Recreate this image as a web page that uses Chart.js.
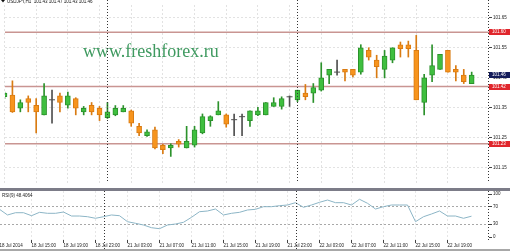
<!DOCTYPE html>
<html>
<head>
<meta charset="utf-8">
<script src="https://cdn.jsdelivr.net/npm/chart.js@4/dist/chart.umd.min.js"></script>
<style>
  html, body { margin: 0; padding: 0; background: #fff; }
  #wrap { position: relative; width: 510px; height: 251px; overflow: hidden; }
  #priceChart { position: absolute; left: 0; top: 0; }
  #sep { position: absolute; left: 0; top: 188px; width: 510px; height: 3px; background: #7c7c88; }
  #rsiChart { position: absolute; left: 0; top: 191px; }
  #foot { position: absolute; left: 0; top: 249px; width: 510px; height: 2px; background: #a8a8a8; }
</style>
</head>
<body>
<div id="wrap">
  <canvas id="priceChart" width="510" height="188"></canvas>
  <div id="sep"></div>
  <canvas id="rsiChart" width="510" height="60"></canvas>
  <div id="foot"></div>
</div>
<script>
const symbolTitle = "USDJPY,H1  101.43 101.47 101.43 101.46";
const rsiTitle = "RSI(9) 48.4064";
const watermark = "www.freshforex.ru";

// H1 candles, 18 Jul 11:00 .. 22 Jul 22:00
const opens  = [101.386, 101.392, 101.348, 101.380, 101.358, 101.326, 101.376, 101.389, 101.358, 101.380,
                101.336, 101.358, 101.348, 101.317, 101.326, 101.336, 101.339, 101.288, 101.257, 101.276,
                101.225, 101.216, 101.238, 101.216, 101.225, 101.266, 101.307, 101.326, 101.326, 101.310,
                101.320, 101.307, 101.326, 101.326, 101.354, 101.354, 101.386, 101.376, 101.398, 101.398,
                101.408, 101.458, 101.468, 101.477, 101.477, 101.468, 101.540, 101.508, 101.477, 101.508,
                101.559, 101.559, 101.540, 101.367, 101.458, 101.477, 101.540, 101.477, 101.458, 101.430];
const highs  = [101.402, 101.439, 101.376, 101.389, 101.380, 101.430, 101.408, 101.398, 101.402, 101.383,
                101.354, 101.367, 101.354, 101.367, 101.357, 101.357, 101.342, 101.298, 101.276, 101.285,
                101.228, 101.230, 101.244, 101.288, 101.288, 101.329, 101.323, 101.370, 101.329, 101.329,
                101.329, 101.339, 101.351, 101.367, 101.383, 101.386, 101.389, 101.408, 101.427, 101.430,
                101.499, 101.477, 101.508, 101.477, 101.477, 101.559, 101.549, 101.524, 101.540, 101.549,
                101.568, 101.571, 101.590, 101.461, 101.559, 101.527, 101.540, 101.490, 101.477, 101.468];
const lows   = [101.380, 101.334, 101.336, 101.336, 101.266, 101.326, 101.298, 101.336, 101.348, 101.326,
                101.326, 101.326, 101.307, 101.314, 101.323, 101.336, 101.288, 101.257, 101.254, 101.213,
                101.197, 101.188, 101.219, 101.216, 101.219, 101.263, 101.288, 101.326, 101.285, 101.257,
                101.257, 101.288, 101.323, 101.326, 101.354, 101.345, 101.354, 101.370, 101.376, 101.367,
                101.405, 101.430, 101.458, 101.439, 101.452, 101.461, 101.508, 101.449, 101.449, 101.499,
                101.518, 101.518, 101.376, 101.326, 101.436, 101.477, 101.468, 101.439, 101.430, 101.430];
const closes = [101.398, 101.336, 101.367, 101.367, 101.336, 101.389, 101.376, 101.367, 101.389, 101.348,
                101.348, 101.336, 101.326, 101.336, 101.348, 101.348, 101.298, 101.266, 101.270, 101.216,
                101.210, 101.225, 101.229, 101.238, 101.276, 101.320, 101.320, 101.339, 101.295, 101.310,
                101.320, 101.339, 101.339, 101.367, 101.367, 101.380, 101.386, 101.408, 101.386, 101.417,
                101.449, 101.477, 101.468, 101.468, 101.458, 101.549, 101.518, 101.486, 101.521, 101.549,
                101.546, 101.546, 101.376, 101.449, 101.490, 101.527, 101.468, 101.468, 101.436, 101.458];

const rsi = [64.4, 51.2, 56.5, 56.5, 49.5, 57.4, 55.1, 55.1, 58.1, 48.8,
             48.8, 47.2, 43.5, 47.2, 51.2, 49.5, 35.6, 31.9, 27.9, 21.6,
             19.3, 27.9, 30.2, 34.2, 45.8, 58.8, 60.5, 65.1, 51.2, 55.1,
             57.4, 62.8, 64.4, 70.5, 70.5, 72.8, 74.4, 79.8, 69.1, 74.4,
             80.7, 86.0, 79.8, 79.8, 74.4, 87.7, 78.4, 65.1, 70.5, 74.4,
             74.4, 74.4, 35.6, 47.2, 53.5, 60.5, 48.8, 48.8, 43.5, 48.4];

const priceTicks = [101.15, 101.25, 101.35, 101.45, 101.55, 101.65];
const rsiTicks = [0, 30, 70, 100];
const timeTickIdx = [0, 4, 8, 12, 16, 20, 24, 28, 32, 36, 40, 44, 48, 52, 56];
const timeTickLabels = ["18 Jul 2014", "18 Jul 15:00", "18 Jul 19:00", "18 Jul 23:00",
                        "21 Jul 03:00", "21 Jul 07:00", "21 Jul 11:00", "21 Jul 15:00",
                        "21 Jul 19:00", "21 Jul 23:00", "22 Jul 03:00", "22 Jul 07:00",
                        "22 Jul 11:00", "22 Jul 15:00", "22 Jul 19:00"];
const levelLines = [101.60, 101.42, 101.23];
const lastPrice = 101.46;
const daySeparators = [13, 37];

const idx = opens.map((_, i) => i);
const UP = '#3fbf3f', UP_EDGE = '#2c922c', DN = '#f7941d', DN_EDGE = '#d97b12', FLAT = '#505050';
const pick = (i, up, dn, flat) => closes[i] > opens[i] ? up : (closes[i] < opens[i] ? dn : flat);

const FONT = { family: 'Liberation Sans, Arial, sans-serif', size: 4.5 };
const xMin = 0.0625, xMax = xMin + 489 / 8;

function fixWidth(s) { s.width = 21; s.paddingTop = 0; s.paddingBottom = 0; }

function dottedV(ctx, x, y1, y2, color) {
  ctx.save();
  ctx.strokeStyle = color;
  ctx.lineWidth = 1;
  ctx.setLineDash([1, 2]);
  ctx.beginPath();
  ctx.moveTo(Math.round(x) + 0.5, y1);
  ctx.lineTo(Math.round(x) + 0.5, y2);
  ctx.stroke();
  ctx.restore();
}

function priceTag(ctx, area, y, text, bg) {
  ctx.fillStyle = bg;
  ctx.fillRect(area.right, Math.round(y) - 3, 21, 6);
  ctx.fillStyle = '#fff';
  ctx.font = '4.5px Liberation Sans, Arial, sans-serif';
  ctx.textBaseline = 'middle';
  ctx.textAlign = 'left';
  ctx.fillText(text, area.right + 3, Math.round(y));
}

const mainDecor = {
  id: 'mainDecor',
  beforeDatasetsDraw(chart) {
    const { ctx, chartArea: a, scales: { y } } = chart;
    ctx.save();
    ctx.strokeStyle = '#c99592';
    ctx.lineWidth = 1.5;
    levelLines.forEach(v => {
      const py = y.getPixelForValue(v);
      ctx.beginPath();
      ctx.moveTo(a.left, py);
      ctx.lineTo(a.right, py);
      ctx.stroke();
    });
    ctx.fillStyle = '#3f9a60';
    ctx.font = '18px Liberation Serif, Times New Roman, serif';
    ctx.textBaseline = 'alphabetic';
    ctx.fillText(watermark, 83, 57);
    ctx.restore();
  },
  afterDraw(chart) {
    const { ctx, chartArea: a, scales: { x, y } } = chart;
    ctx.save();
    daySeparators.forEach(i => dottedV(ctx, x.getPixelForValue(i), 0, a.bottom, '#333'));
    dottedV(ctx, a.right - 1, 0, a.bottom, '#333');
    levelLines.forEach(v => priceTag(ctx, a, y.getPixelForValue(v), v.toFixed(2), '#e0262c'));
    priceTag(ctx, a, y.getPixelForValue(lastPrice), lastPrice.toFixed(2), '#141c5a');
    // header
    ctx.fillStyle = '#111';
    ctx.beginPath();
    ctx.moveTo(1, 0); ctx.lineTo(5, 0); ctx.lineTo(3, 2.5); ctx.closePath();
    ctx.fill();
    ctx.font = '4.5px Liberation Sans, Arial, sans-serif';
    ctx.textBaseline = 'alphabetic';
    ctx.fillText(symbolTitle, 7, 3);
    ctx.restore();
  }
};

new Chart(document.getElementById('priceChart'), {
  type: 'bar',
  data: {
    datasets: [
      {
        order: 0,
        grouped: false,
        barThickness: 5,
        borderWidth: 1,
        borderSkipped: false,
        data: idx.filter(i => opens[i] !== closes[i]).map(i => ({ x: i, y: [opens[i], closes[i]] })),
        backgroundColor: c => pick(c.raw.x, UP, DN, FLAT),
        borderColor: c => pick(c.raw.x, UP_EDGE, DN_EDGE, FLAT)
      },
      {
        order: 1,
        grouped: false,
        barThickness: 1,
        borderWidth: 0,
        data: idx.map(i => ({ x: i, y: [lows[i], highs[i]] })),
        backgroundColor: c => pick(c.raw.x, UP_EDGE, DN_EDGE, FLAT)
      },
      {
        type: 'line',
        order: 0,
        showLine: false,
        data: idx.filter(i => opens[i] === closes[i]).map(i => ({ x: i, y: opens[i] })),
        pointStyle: 'line',
        pointRadius: 3,
        pointBorderWidth: 1,
        pointBorderColor: FLAT
      }
    ]
  },
  options: {
    responsive: false,
    animation: false,
    devicePixelRatio: 1,
    layout: { padding: 0 },
    plugins: { legend: { display: false }, tooltip: { enabled: false } },
    scales: {
      x: {
        type: 'linear', min: xMin, max: xMax, offset: false,
        afterBuildTicks: s => { s.ticks = timeTickIdx.map(v => ({ value: v })); },
        afterFit: s => { s.height = 0; s.paddingLeft = 0; s.paddingRight = 0; },
        ticks: { display: false },
        grid: { color: '#e2e2e2', drawTicks: false, offset: false },
        border: { display: false, dash: [2, 2] }
      },
      y: {
        position: 'right',
        min: 101.65 - 175 / 318, max: 101.65 + 13 / 318,
        afterBuildTicks: s => { s.ticks = priceTicks.map(v => ({ value: v })); },
        afterFit: fixWidth,
        ticks: { font: FONT, color: '#222', padding: 1, callback: v => v.toFixed(2) },
        grid: { color: '#e2e2e2', tickLength: 3, tickColor: '#444' },
        border: { display: false, dash: [2, 2] }
      }
    }
  },
  plugins: [mainDecor]
});

const rsiDecor = {
  id: 'rsiDecor',
  afterDraw(chart) {
    const { ctx, chartArea: a, scales: { x } } = chart;
    ctx.save();
    daySeparators.forEach(i => dottedV(ctx, x.getPixelForValue(i), 0, chart.height, '#333'));
    dottedV(ctx, a.right - 1, 0, a.bottom, '#333');
    ctx.fillStyle = '#222';
    ctx.font = '4.5px Liberation Sans, Arial, sans-serif';
    ctx.textBaseline = 'middle';
    ctx.fillText(rsiTitle, 2, 5);
    ctx.restore();
  }
};

new Chart(document.getElementById('rsiChart'), {
  type: 'line',
  data: {
    datasets: [{
      data: idx.map(i => ({ x: i, y: rsi[i] })),
      borderColor: '#8cb5c6',
      borderWidth: 1,
      pointRadius: 0,
      tension: 0
    }]
  },
  options: {
    responsive: false,
    animation: false,
    devicePixelRatio: 1,
    layout: { padding: 0 },
    plugins: { legend: { display: false }, tooltip: { enabled: false } },
    scales: {
      x: {
        type: 'linear', min: xMin, max: xMax, offset: false,
        afterBuildTicks: s => { s.ticks = timeTickIdx.map(v => ({ value: v })); },
        afterFit: s => { s.height = 11; s.paddingLeft = 0; s.paddingRight = 0; },
        ticks: {
          font: FONT, color: '#222', padding: 0, align: 'start',
          autoSkip: false, maxRotation: 0,
          callback: v => timeTickLabels[timeTickIdx.indexOf(v)]
        },
        grid: { color: '#e6e6e6', tickLength: 3, tickColor: '#444' },
        border: { display: false, dash: [2, 2] }
      },
      y: {
        position: 'right',
        min: -3 / 0.43, max: 100 + 3 / 0.43,
        afterBuildTicks: s => { s.ticks = rsiTicks.map(v => ({ value: v })); },
        afterFit: fixWidth,
        ticks: { font: FONT, color: '#222', padding: 1, callback: v => String(v) },
        grid: {
          color: c => (c.tick && (c.tick.value === 30 || c.tick.value === 70)) ? '#a8a8a8' : 'rgba(0,0,0,0)',
          tickLength: 3, tickColor: '#444'
        },
        border: { display: false, dash: [2, 2] }
      }
    }
  },
  plugins: [rsiDecor]
});
</script>
</body>
</html>
